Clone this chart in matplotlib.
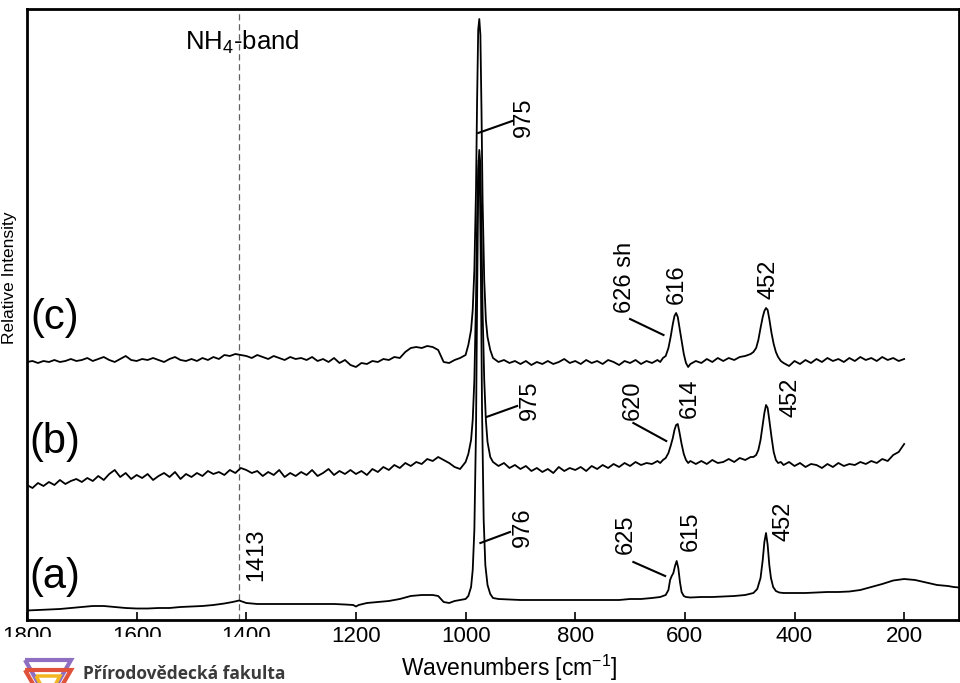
import numpy as np
import matplotlib
matplotlib.use("Agg")
import matplotlib.pyplot as plt
from matplotlib.patches import Rectangle, Polygon

plt.rcParams['font.family'] = ['Liberation Sans', 'DejaVu Sans']
plt.rcParams['mathtext.fontset'] = 'custom'
plt.rcParams['mathtext.rm'] = 'Liberation Sans'
plt.rcParams['mathtext.it'] = 'Liberation Sans:italic'
plt.rcParams['mathtext.bf'] = 'Liberation Sans:bold'

# ---------------- data (wavenumber [cm-1], relative intensity, stacked) ----------------
# trace (c)
c_x = ([1800, 1790, 1780, 1770, 1760, 1750, 1740, 1730, 1720, 1710,
        1700, 1690, 1680, 1670, 1660, 1650, 1640, 1630, 1620, 1610,
        1600, 1590, 1580, 1570, 1560, 1550, 1540, 1530, 1520, 1510,
        1500, 1490, 1480, 1470, 1460, 1450, 1440, 1430, 1420, 1410,
        1400, 1390, 1380, 1370, 1360, 1350, 1340, 1330, 1320, 1310,
        1300, 1290, 1280, 1270, 1260, 1250, 1240, 1230, 1220, 1210,
        1200, 1190, 1180, 1170, 1160, 1150, 1140, 1130, 1120, 1110,
        1100, 1090, 1080, 1070, 1060, 1050, 1040, 1030, 1020, 1010,
        1000,
        995, 990, 987, 984, 981, 979, 977, 975, 973, 971, 969, 966, 963, 960, 955,
        950, 940, 930, 920, 910, 900, 890, 880, 870, 860,
        850, 840, 830, 820, 810, 800, 790, 780, 770, 760,
        750, 740, 730, 720, 710, 700, 690, 680, 670, 660,
        650,
        645, 640, 635, 630, 626, 622, 619, 616, 613, 610, 606, 602, 598, 594, 590,
        580, 570, 560, 550, 540, 530, 520, 510, 500, 490, 480,
        475, 470, 466, 462, 458, 455, 452, 449, 446, 442, 438, 434, 430, 425,
        420, 410, 400, 390, 380, 370, 360, 350, 340, 330,
        320, 310, 300, 290, 280, 270, 260, 250, 240, 230,
        220, 210, 200])
c_y = ([258, 259, 257, 259, 258, 260, 258, 259, 261, 259,
        260, 262, 259, 261, 263, 260, 258, 261, 264, 260,
        259, 261, 260, 262, 260, 258, 261, 263, 260, 259,
        261, 259, 262, 260, 263, 261, 265, 264, 266, 265,
        264, 262, 265, 263, 261, 264, 262, 260, 263, 261,
        262, 260, 263, 259, 261, 258, 262, 257, 260, 255,
        253, 257, 256, 259, 258, 261, 260, 263, 262, 268,
        272, 273, 272, 274, 273, 270, 258, 257, 260, 262,
        265,
        275, 290, 310, 350, 430, 520, 590, 601, 585, 510, 420, 340, 300, 283, 270,
        262, 258, 260, 257, 259, 256, 259, 255, 258, 256,
        259, 256, 258, 261, 257, 259, 256, 260, 257, 259,
        256, 260, 258, 255, 259, 257, 260, 256, 259, 257,
        260,
        258, 262, 264, 272, 283, 296, 304, 307, 303, 293, 280, 266, 257, 253, 256,
        259, 257, 261, 258, 262, 259, 262, 260, 263, 264, 266,
        268, 272, 280, 292, 303, 309, 312, 310, 301, 287, 276, 268, 263, 259,
        257, 254, 259, 256, 260, 257, 261, 258, 262, 259,
        261, 258, 262, 259, 263, 260, 262, 259, 263, 260,
        262, 259, 261])

# trace (b)
b_x = list(c_x)
b_y = ([135, 132, 137, 134, 138, 135, 140, 136, 139, 141,
        138, 142, 139, 144, 140, 146, 150, 143, 147, 141,
        145, 142, 146, 140, 144, 147, 143, 148, 141, 146,
        143, 147, 144, 149, 146, 148, 145, 150, 147, 152,
        150, 147, 149, 144, 148, 145, 150, 143, 147, 144,
        148, 145, 150, 144, 147, 151, 145, 149, 146, 150,
        146, 149, 145, 151, 148, 153, 150, 155, 152, 157,
        154, 158, 156, 161, 159, 163, 160, 157, 153, 151,
        158,
        166, 180, 200, 240, 320, 400, 450, 470, 455, 390, 310, 240, 200, 178, 163,
        158, 154, 157, 152, 155, 151, 154, 149, 152, 148,
        151, 147, 153, 149, 152, 150, 153, 149, 154, 151,
        155, 152, 156, 153, 157, 154, 158, 155, 157, 156,
        159,
        157, 160, 162, 167, 174, 182, 190, 195, 196, 188, 176, 166, 160, 157, 159,
        156, 159, 156, 160, 157, 158, 161, 158, 162, 160, 163,
        163, 165, 170, 180, 195, 207, 215, 212, 200, 183, 168, 160, 157, 158,
        155, 158, 154, 157, 153, 156, 155, 152, 156, 153,
        157, 154, 156, 155, 158, 156, 159, 157, 161, 159,
        165, 168, 176])

# trace (a)
a_x = ([1800, 1780, 1760, 1740, 1720, 1700, 1680, 1660, 1640, 1620,
        1600, 1580, 1560, 1540, 1520, 1500, 1480, 1460, 1440, 1425,
        1413, 1400, 1380, 1360, 1340, 1320, 1300, 1280, 1260, 1240,
        1220, 1205, 1200, 1195, 1180, 1160, 1140, 1120, 1100, 1080,
        1060, 1050, 1040, 1030, 1020, 1000,
        995, 990, 987, 984, 981, 979, 977, 976, 974, 972, 970, 967, 964, 960, 955, 950,
        940, 920, 900, 880, 860, 840, 820, 800, 780, 760,
        740, 720, 700, 680, 660,
        645, 635, 630, 627, 624, 621, 618, 615, 612, 609, 606, 602, 598,
        590, 570, 550, 530, 510, 490, 475,
        468, 462, 458, 455, 452, 449, 446, 443, 439, 434, 428,
        420, 400, 380, 360, 340, 320, 300, 280, 260, 240,
        220, 200, 180, 160, 140, 120, 110, 100])
a_y = ([9.5, 10, 10.5, 11, 12, 13, 14, 14, 13, 12,
        11.5, 11.5, 12, 12, 13, 13.5, 14, 15, 16.5, 18,
        19.5, 17, 16, 16, 16, 16, 16, 16, 16, 16,
        15.5, 15, 13.5, 15, 17, 18, 19, 21, 24, 25,
        25, 24, 18, 17, 19, 21,
        24, 33, 50, 90, 190, 320, 430, 460, 440, 340, 210, 100, 55, 35, 26, 22,
        21, 20.5, 20, 20, 20, 20, 20, 20, 20, 20,
        20, 20, 21, 21, 22,
        23, 25, 30, 40, 44, 47, 54, 59, 52, 38, 28, 24, 23,
        22.5, 23, 23, 23.5, 24, 25, 27,
        31, 42, 60, 78, 87, 75, 55, 42, 33, 29, 27.5,
        27, 27, 27, 27.5, 28, 28, 28.5, 30, 33, 36,
        39.5, 41, 40, 37.5, 35, 34, 33, 32.5])

trace_labels = ['(c)', '(b)', '(a)']
nh4_position = 1413
peak_labels_c = ['975', '626 sh', '616', '452']
peak_labels_b = ['975', '620', '614', '452']
peak_labels_a = ['976', '625', '615', '452', '1413']
x_ticks = [1800, 1600, 1400, 1200, 1000, 800, 600, 400, 200]

# ---------------- figure ----------------
fig = plt.figure(figsize=(9.6, 6.83), dpi=100)
ax = fig.add_axes([27 / 960, 63 / 683, 932 / 960, 611 / 683])

for xs, ys in [(c_x, c_y), (b_x, b_y), (a_x, a_y)]:
    ax.plot(xs, ys, color='black', lw=1.3, solid_joinstyle='round')

ax.axvline(nh4_position, color='#606060', lw=0.9, ls=(0, (5, 3)), zorder=0)

ax.set_xlim(1800, 100)
ax.set_ylim(0, 611)
ax.set_xticks(x_ticks)
ax.set_yticks([])
ax.tick_params(axis='x', direction='in', length=6, width=1.2, labelsize=16, pad=4)
for s in ax.spines.values():
    s.set_linewidth(2.0)

ax.set_xlabel('Wavenumbers [cm$^{-1}$]', fontsize=16.5)
ax.xaxis.set_label_coords(0.518, -0.053)
ax.xaxis.label.set_va('top')
ax.set_ylabel('Relative Intensity', fontsize=12.5)
ax.yaxis.set_label_coords(-0.0105, 0.56)

# trace names
for lab, yv in zip(trace_labels, [302, 178, 43]):
    ax.text(1750, yv, lab, fontsize=30, ha='center', va='center')

# NH4 band label
ax.text(1408, 578, 'NH$_4$-band', fontsize=18.5, ha='center', va='center')

# peak annotations: (label, text x, text y, leader start, leader end)
ann = [
    (peak_labels_c[0], 893, 503, (977, 487), (915, 499)),
    (peak_labels_c[1], 709, 343, (700, 301), (639, 285)),
    (peak_labels_c[2], 614, 336, None, None),
    (peak_labels_c[3], 448, 341, None, None),
    (peak_labels_b[0], 882, 220, (962, 203), (906, 214)),
    (peak_labels_b[1], 696, 220, (694, 197), (634, 179)),
    (peak_labels_b[2], 592, 222, None, None),
    (peak_labels_b[3], 408, 223, None, None),
    (peak_labels_a[0], 895, 93, (973, 77), (919, 88)),
    (peak_labels_a[1], 707, 86, (694, 58), (636, 44)),
    (peak_labels_a[2], 590, 89, None, None),
    (peak_labels_a[3], 420, 99, None, None),
    (peak_labels_a[4], 1382, 65, None, None),
]
for lab, tx, ty, p0, p1 in ann:
    ax.text(tx, ty, lab, fontsize=17, rotation=90, ha='center', va='center')
    if p0 is not None:
        ax.plot([p0[0], p1[0]], [p0[1], p1[1]], color='black', lw=1.5)

# logo overlay (bottom-left)
W, H = 960, 683
fig.patches.append(Rectangle((0, 0), 318 / W, (H - 637) / H, transform=fig.transFigure,
                             facecolor='white', edgecolor='none', zorder=5))
def tri(y_top, color, x0=25, x1=71, depth=40, lw=3):
    pts = [(x0 / W, 1 - y_top / H), (x1 / W, 1 - y_top / H), ((x0 + x1) / 2 / W, 1 - (y_top + depth) / H)]
    fig.patches.append(Polygon(pts, closed=True, fill=False, edgecolor=color, lw=lw,
                               transform=fig.transFigure, zorder=6))
tri(660, '#8e6fc1')
tri(670, '#e0523a')
tri(676, '#f2b51f', x0=36, x1=60, depth=22, lw=2.5)
fig.text(83 / W, 1 - 679 / H, 'Přírodovědecká fakulta', fontsize=12.5, fontweight='bold',
         color='#3a3a3a', ha='left', va='baseline', family=['Open Sans', 'DejaVu Sans'], zorder=7)

fig.savefig('out.png', dpi=100)
